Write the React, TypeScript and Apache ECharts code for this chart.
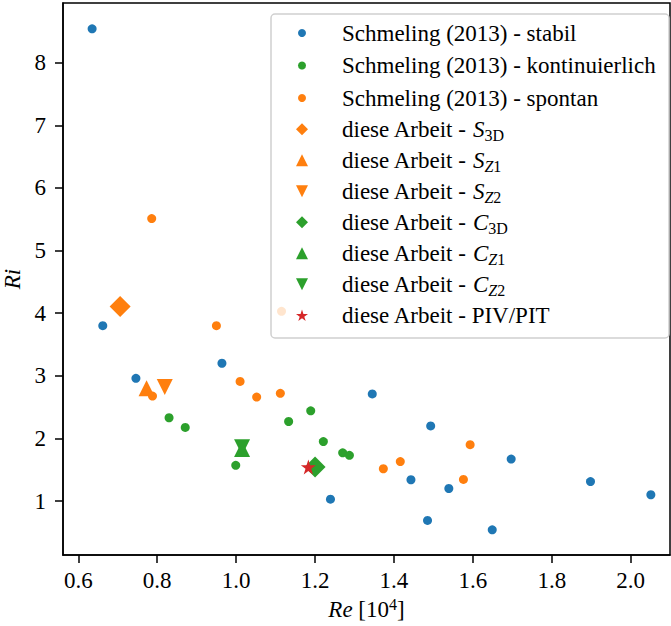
import React, { useEffect, useRef } from "react";
import * as echarts from "echarts";

// ---- data (Re in 10^4, Ri) ----
const stabilRe = [0.635, 0.662, 0.746, 0.964, 1.239, 1.345, 1.443, 1.485, 1.493, 1.539, 1.649, 1.697, 1.898, 2.051];
const stabilRi = [8.54, 3.8, 2.96, 3.2, 1.03, 2.71, 1.34, 0.69, 2.2, 1.2, 0.54, 1.67, 1.31, 1.1];

const kontRe = [0.83, 0.871, 0.999, 1.133, 1.189, 1.221, 1.27, 1.287];
const kontRi = [2.33, 2.175, 1.57, 2.27, 2.44, 1.95, 1.77, 1.73];

const spontRe = [0.786, 0.788, 0.95, 1.01, 1.052, 1.112, 1.115, 1.373, 1.416, 1.576, 1.593];
const spontRi = [5.51, 2.676, 3.8, 2.91, 2.66, 2.72, 4.03, 1.515, 1.63, 1.345, 1.9];

const s3d = [0.706, 4.106];
const sz1 = [0.773, 2.8];
const sz2 = [0.819, 2.82];
const c3d = [1.2, 1.545];
const cz1 = [1.015, 1.83];
const cz2 = [1.015, 1.86];
const pivpit = [1.183, 1.543];

const xTicks = [0.6, 0.8, 1.0, 1.2, 1.4, 1.6, 1.8, 2.0];
const yTicks = [1, 2, 3, 4, 5, 6, 7, 8];

const BLUE = "#1f77b4";
const ORANGE = "#ff7f0e";
const GREEN = "#2ca02c";
const RED = "#d62728";
const FONT = "Liberation Serif";

const STAR =
  "path://M50,0 L61.23,34.55 L97.55,34.55 L68.16,55.9 L79.39,90.45 L50,69.1 L20.61,90.45 L31.84,55.9 L2.45,34.55 L38.77,34.55 Z";
const DOWN = "path://M0,0 L10,0 L5,10 Z";

const zip = (a: number[], b: number[]) => a.map((v, i) => [v, b[i]]);

const richNames: Record<string, string> = {
  "diese Arbeit - S3D": "diese Arbeit - {cal|S}{sub|3D}",
  "diese Arbeit - SZ1": "diese Arbeit - {cal|S}{subi|Z}{sub|1}",
  "diese Arbeit - SZ2": "diese Arbeit - {cal|S}{subi|Z}{sub|2}",
  "diese Arbeit - C3D": "diese Arbeit - {cal|C}{sub|3D}",
  "diese Arbeit - CZ1": "diese Arbeit - {cal|C}{subi|Z}{sub|1}",
  "diese Arbeit - CZ2": "diese Arbeit - {cal|C}{subi|Z}{sub|2}",
  "diese Arbeit - PIV/PIT": "diese Arbeit - PIV/PIT",
};

export default function App() {
  const ref = useRef<HTMLDivElement>(null);
  useEffect(() => {
    if (!ref.current) return;
    const chart = echarts.init(ref.current, null, { renderer: "svg" });
    const dot = (name: string, color: string, data: number[][]) => ({
      type: "scatter",
      name,
      data,
      symbol: "circle",
      symbolSize: 9,
      itemStyle: { color, opacity: 1 },
      emphasis: { disabled: true },
    });
    const big = (name: string, color: string, pt: number[], symbol: string, size: number) => ({
      type: "scatter",
      name,
      data: [pt],
      symbol,
      symbolSize: size,
      itemStyle: { color, opacity: 1 },
      emphasis: { disabled: true },
    });
    const textBase = { fontFamily: FONT, fontSize: 23, color: "#000" };
    chart.setOption({
      animation: false,
      textStyle: { fontFamily: FONT },
      grid: {
        left: 63,
        right: 1,
        top: 3,
        bottom: 71,
        show: true,
        borderColor: "#000",
        borderWidth: 1.5,
        backgroundColor: "transparent",
        outerBoundsMode: "none",
        containLabel: false,
      },
      xAxis: {
        type: "value",
        min: 0.5612,
        max: 2.0995,
        axisLine: { show: true, onZero: false, lineStyle: { color: "#000", width: 1.5 } },
        axisTick: { show: true, customValues: xTicks, length: 8, lineStyle: { color: "#000", width: 1.5 } },
        axisLabel: {
          customValues: xTicks,
          formatter: (v: number) => v.toFixed(1),
          margin: 14,
          ...textBase,
        },
        splitLine: { show: false },
        name: "{i|Re} [10{sup|4}]",
        nameLocation: "middle",
        nameGap: 36,
        nameTextStyle: {
          ...textBase,
          rich: {
            i: { ...textBase, fontStyle: "italic" },
            sup: { fontFamily: FONT, fontSize: 16, color: "#000", padding: [0, 0, 10, 0] },
          },
        },
      },
      yAxis: {
        type: "value",
        min: 0.138,
        max: 8.953,
        axisLine: { show: true, onZero: false, lineStyle: { color: "#000", width: 1.5 } },
        axisTick: { show: true, customValues: yTicks, length: 8, lineStyle: { color: "#000", width: 1.5 } },
        axisLabel: {
          customValues: yTicks,
          formatter: (v: number) => String(Math.round(v)),
          margin: 17,
          ...textBase,
        },
        splitLine: { show: false },
        name: "Ri",
        nameLocation: "middle",
        nameRotate: 90,
        nameGap: 34,
        nameTextStyle: { ...textBase, fontStyle: "italic" },
      },
      graphic: [
        {
          type: "rect",
          z: 3,
          shape: { x: 271, y: 14, width: 398, height: 324, r: 4 },
          style: { fill: "rgba(255,255,255,0.8)", stroke: "#d0d0d0", lineWidth: 1.5 },
        },
      ],
      legend: [
        {
          data: ["Schmeling (2013) - stabil", "Schmeling (2013) - kontinuierlich", "Schmeling (2013) - spontan"],
          orient: "vertical",
          left: 298,
          top: 16.75,
          padding: 0,
          itemGap: 0,
          itemWidth: 8,
          itemHeight: 8,
          selectedMode: false,
          z: 4,
          textStyle: { ...textBase, lineHeight: 32.5, padding: [0, 0, 0, 31] },
        },
        {
          data: Object.keys(richNames),
          orient: "vertical",
          left: 296,
          top: 113.8,
          padding: 0,
          itemGap: 0,
          itemWidth: 12,
          itemHeight: 12,
          selectedMode: false,
          z: 4,
          formatter: (name: string) => richNames[name] || name,
          textStyle: {
            ...textBase,
            lineHeight: 31,
            padding: [0, 0, 0, 29],
            rich: {
              cal: { ...textBase, fontStyle: "italic", lineHeight: 31 },
              sub: { fontFamily: FONT, fontSize: 16, color: "#000", lineHeight: 16, padding: [12, 0, 0, 0] },
              subi: { fontFamily: FONT, fontSize: 16, fontStyle: "italic", color: "#000", lineHeight: 16, padding: [12, 0, 0, 0] },
            },
          },
        },
      ],
      series: [
        dot("Schmeling (2013) - stabil", BLUE, zip(stabilRe, stabilRi)),
        dot("Schmeling (2013) - kontinuierlich", GREEN, zip(kontRe, kontRi)),
        dot("Schmeling (2013) - spontan", ORANGE, zip(spontRe, spontRi)),
        big("diese Arbeit - S3D", ORANGE, s3d, "diamond", 21),
        big("diese Arbeit - SZ1", ORANGE, sz1, "triangle", 16),
        big("diese Arbeit - SZ2", ORANGE, sz2, DOWN, 16),
        big("diese Arbeit - C3D", GREEN, c3d, "diamond", 21),
        big("diese Arbeit - CZ1", GREEN, cz1, "triangle", 16),
        big("diese Arbeit - CZ2", GREEN, cz2, DOWN, 16),
        big("diese Arbeit - PIV/PIT", RED, pivpit, STAR, 15),
      ],
    });
    return () => chart.dispose();
  }, []);
  return (
    <div
      ref={ref}
      style={{ position: "fixed", left: 0, top: 0, width: 671, height: 626, background: "#fff" }}
    />
  );
}
